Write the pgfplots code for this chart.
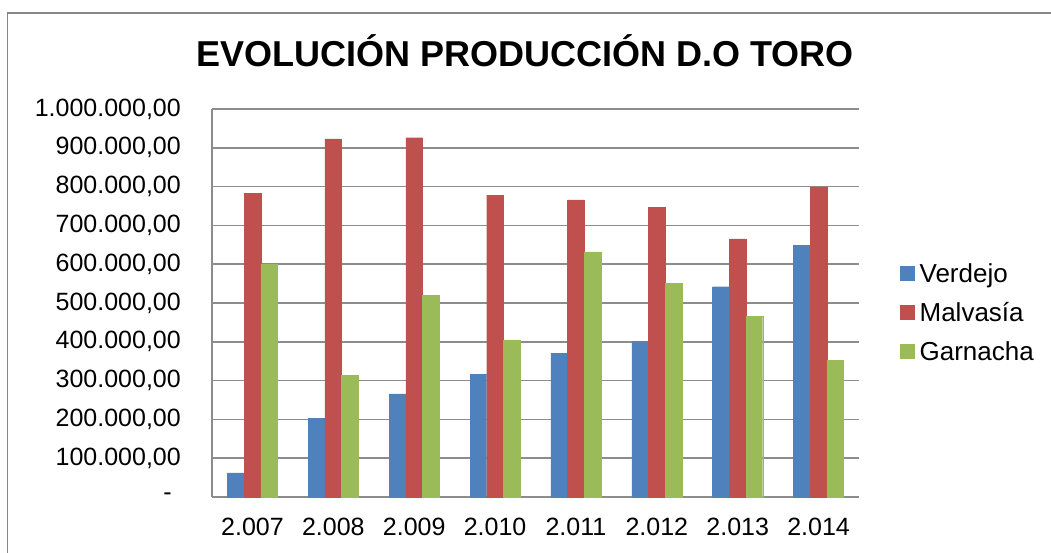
\documentclass[border=0pt]{standalone}
\usepackage{pgfplots}
\pgfplotsset{compat=1.18}
\usepackage{fontspec}
\setmainfont{Liberation Sans}
\definecolor{cBlue}{HTML}{4F81BD}
\definecolor{cRed}{HTML}{C0504D}
\definecolor{cGreen}{HTML}{9BBB59}
\definecolor{gridGray}{HTML}{8C8C8C}
\definecolor{borderGray}{HTML}{878787}
\pgfplotsset{sqlegend/.style={legend image code/.code={\fill[##1] (0pt,-4pt) rectangle (14pt,10pt);}}}
\begin{document}
\begin{tikzpicture}
\useasboundingbox (0pt,0pt) rectangle (1051pt,-553pt);
\draw[color=borderGray, line width=1.5pt] (7.5pt,-13pt) rectangle (1070pt,-570pt);
\node[anchor=base, font=\bfseries\fontsize{36}{40}\selectfont, inner sep=0pt] at (525pt,-67pt) {EVOLUCIÓN PRODUCCIÓN D.O TORO};
\begin{axis}[
  at={(212pt,-497pt)}, anchor=south west,
  scale only axis, width=647pt, height=388pt,
  xmin=-0.5, xmax=7.5, ymin=0, ymax=1000000,
  ybar=0pt, bar width=16.7pt,
  axis x line=bottom, axis y line=left,
  axis line style={-, draw=gridGray, line width=1.5pt},
  ymajorgrids, grid style={gridGray, line width=1.5pt},
  major tick length=0pt,
  scaled y ticks=false,
  ytick={0,100000,200000,300000,400000,500000,600000,700000,800000,900000,1000000},
  yticklabels={{-\hspace*{9pt}},{100.000,00},{200.000,00},{300.000,00},{400.000,00},{500.000,00},{600.000,00},{700.000,00},{800.000,00},{900.000,00},{1.000.000,00}},
  xtick={0,1,2,3,4,5,6,7},
  xticklabels={2.007,2.008,2.009,2.010,2.011,2.012,2.013,2.014},
  tick label style={font=\fontsize{25}{29}\selectfont},
  yticklabel style={anchor=east, inner sep=0pt, xshift=-31pt},
  xticklabel style={anchor=north, inner sep=0pt, yshift=-21pt},
  legend style={at={(1.0634,0.600)}, anchor=north west, draw=none, fill=none,
    font=\fontsize{26}{30}\selectfont, inner sep=0pt, row sep=16pt,
    nodes={inner sep=0pt, text height=18pt, text depth=5pt},
    /tikz/every odd column/.append style={column sep=5pt}},
  legend cell align=left,
]
\addplot[fill=cBlue, draw=cBlue, sqlegend] coordinates {(0,62000) (1,202000) (2,266000) (3,316000) (4,371000) (5,401000) (6,542000) (7,649000)};
\addplot[fill=cRed, draw=cRed, sqlegend] coordinates {(0,782000) (1,923000) (2,926000) (3,778000) (4,766000) (5,746000) (6,665000) (7,799000)};
\addplot[fill=cGreen, draw=cGreen, sqlegend] coordinates {(0,599000) (1,313000) (2,519000) (3,405000) (4,632000) (5,551000) (6,466000) (7,352000)};
\legend{Verdejo,Malvasía,Garnacha}
\end{axis}
\end{tikzpicture}
\end{document}
